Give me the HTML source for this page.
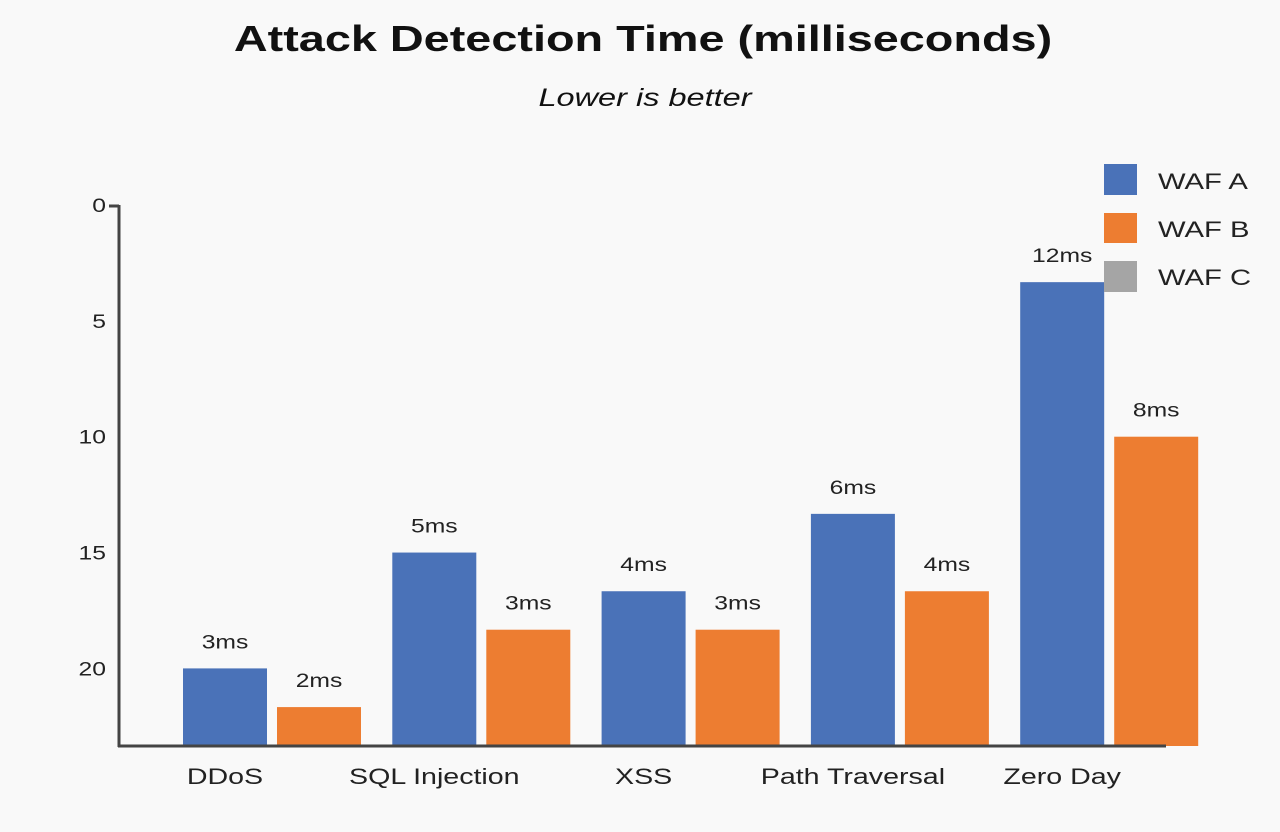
<!DOCTYPE html>
<html><head><meta charset="utf-8"><style>
body{margin:0;background:#f9f9f9;}
svg{display:block;font-family:"Liberation Sans",Arial,sans-serif;}
</style></head><body>
<svg id="chart" width="1280" height="832">
<rect width="1280" height="832" fill="#f9f9f9"/>
<text transform="translate(643,51) scale(1.3,1)" text-anchor="middle" font-size="36" font-weight="bold" fill="#111">Attack Detection Time (milliseconds)</text>
<text transform="translate(645,106) scale(1.3,1)" text-anchor="middle" font-size="25" font-style="italic" fill="#111">Lower is better</text>
<g id="plot"></g>
<g>
<rect x="1104" y="164" width="33" height="31" fill="#4a72b8"/>
<text transform="translate(1158,189) scale(1.33,1)" font-size="22" fill="#222">WAF A</text>
<rect x="1104" y="213" width="33" height="30" fill="#ed7d31"/>
<text transform="translate(1158,237) scale(1.33,1)" font-size="22" fill="#222">WAF B</text>
<rect x="1104" y="261" width="33" height="31" fill="#a5a5a5"/>
<text transform="translate(1158,285) scale(1.33,1)" font-size="22" fill="#222">WAF C</text>
</g>
</svg>
<script>
const categories=["DDoS","SQL Injection","XSS","Path Traversal","Zero Day"];
const wafA=[20,15,16.67,13.33,3.33];
const wafB=[21.67,18.33,18.33,16.67,10];
const labelsA=["3ms","5ms","4ms","6ms","12ms"];
const labelsB=["2ms","3ms","3ms","4ms","8ms"];
const yTicks=[0,5,10,15,20];
const NS="http://www.w3.org/2000/svg";
const plot=document.getElementById('plot');
const y0=205,pxPerUnit=23.17,axisBottom=746,axisX=119;
function y(v){return y0+v*pxPerUnit;}
function xA(i){return 183+i*209.3;}
function mk(tag,attrs){const e=document.createElementNS(NS,tag);for(const k in attrs)e.setAttribute(k,attrs[k]);plot.appendChild(e);return e;}
function txt(x,yy,s,size,anchor){return mk('text',{transform:'translate('+x+','+yy+') scale(1.3,1)','text-anchor':anchor,'font-size':size,fill:'#222'});}
yTicks.forEach(t=>{
 const tx=txt(106,y(t)+7,'',19,'end');
 tx.textContent=t;
 
 
});
const tk=mk('line',{x1:109,x2:axisX,y1:y0+1,y2:y0+1,stroke:'#444','stroke-width':3});


function bar(x,v,lab,color,name){
 const top=y(v);
 const r=mk('rect',{x:x,y:top,width:84,height:axisBottom-top,fill:color});
 
 
 const l=txt(x+42,top-20,'',19,'middle');
 l.textContent=lab;
 
 
}
categories.forEach((c,i)=>{
 bar(xA(i),wafA[i],labelsA[i],'#4a72b8','bar-waf-a');
 bar(xA(i)+94,wafB[i],labelsB[i],'#ed7d31','bar-waf-b');
 const t=txt(xA(i)+42,784,'',22,'middle');
 t.textContent=c;
 
 
});
const ya=mk('line',{x1:axisX,x2:axisX,y1:y0,y2:axisBottom+1,stroke:'#444','stroke-width':3});


const xa=mk('line',{x1:axisX-1,x2:1166,y1:axisBottom,y2:axisBottom,stroke:'#444','stroke-width':3});


</script>
</body></html>
